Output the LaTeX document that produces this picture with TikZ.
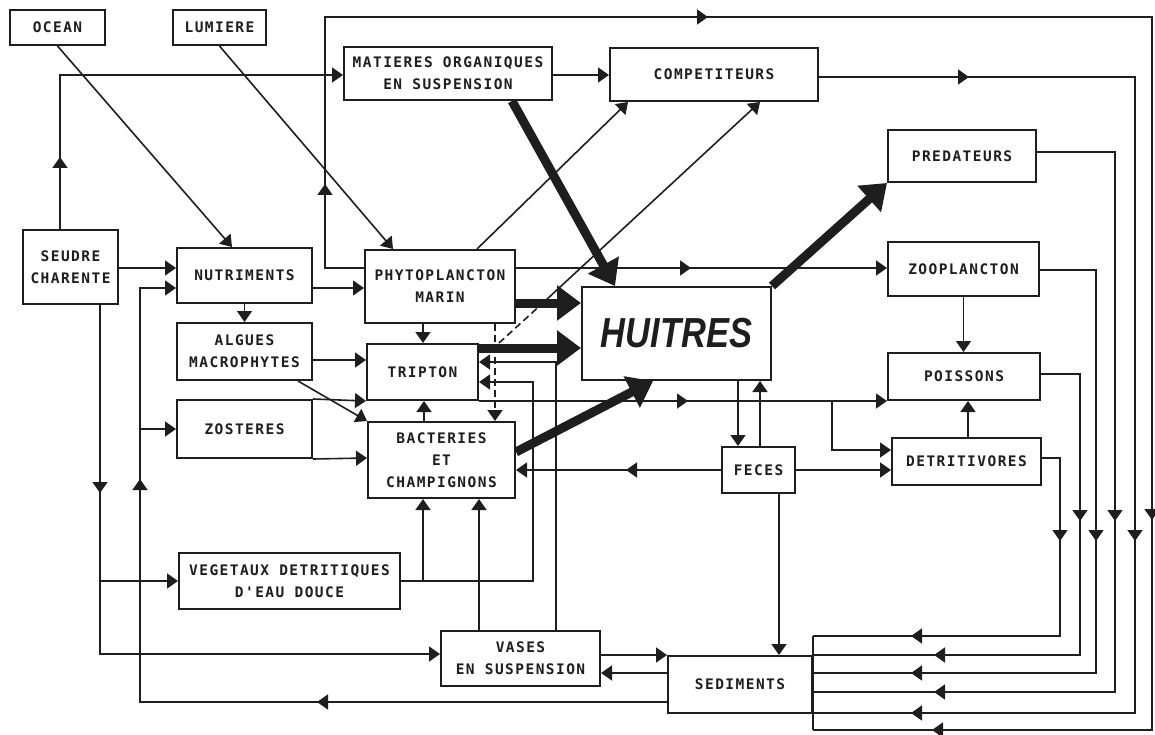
\documentclass[tikz,border=0pt]{standalone}
\usepackage{fontspec}
\usepackage{graphicx}
\usetikzlibrary{arrows.meta,decorations.markings}
\newfontfamily\boxfont[LetterSpace=10]{DejaVu Sans Mono}
\newfontfamily\bigfont{Liberation Sans}
\definecolor{ink}{HTML}{1E1E1E}

\tikzset{
  box/.style={draw=ink, line width=2pt, fill=white, text=ink, inner sep=1pt, align=center,
    font=\boxfont\bfseries\fontsize{14.5}{22}\selectfont},
  plain/.style={draw=ink, line width=1.6pt},
  flow/.style={plain, -{Triangle[length=11pt,width=15pt]}},
  thick flow/.style={draw=ink, line width=9pt, -{Triangle[length=24pt,width=34pt]}},
  midarrow/.style={postaction={decorate, decoration={markings,
    mark=at position #1 with {\arrow[ink]{Triangle[length=11pt,width=15pt]}}}}},
  long dash/.style={dash pattern=on 7pt off 4pt},
}

\begin{document}
\begin{tikzpicture}[x=1pt,y=-1pt]
\useasboundingbox (0,0) rectangle (1155,735);

% compartments
\node[box, minimum width=95pt, minimum height=35pt] (ocean) at (57.5,27.5) {OCEAN};
\node[box, minimum width=93pt, minimum height=35pt] (lumiere) at (219.5,27.5) {LUMIERE};
\node[box, minimum width=208pt, minimum height=53pt] (matieres) at (448,73.5) {MATIERES ORGANIQUES\\EN SUSPENSION};
\node[box, minimum width=208pt, minimum height=53pt] (compet) at (714,74.5) {COMPETITEURS};
\node[box, minimum width=148pt, minimum height=52pt] (predat) at (962,156) {PREDATEURS};
\node[box, minimum width=95pt, minimum height=74pt] (seudre) at (70.5,267) {SEUDRE\\CHARENTE};
\node[box, minimum width=135pt, minimum height=55pt] (nutri) at (244.5,275.5) {NUTRIMENTS};
\node[box, minimum width=150pt, minimum height=73pt] (phyto) at (440,286.5) {PHYTOPLANCTON\\MARIN};
\node[box, minimum width=189pt, minimum height=93pt,
  font=\bigfont\bfseries\itshape\fontsize{42}{42}\selectfont] (huitres) at (676.5,333.5) {\scalebox{0.82}[1]{HUITRES}};
\node[box, minimum width=151pt, minimum height=54pt] (zoo) at (963.5,269) {ZOOPLANCTON};
\node[box, minimum width=135pt, minimum height=57pt] (algues) at (244.5,351.5) {ALGUES\\MACROPHYTES};
\node[box, minimum width=111pt, minimum height=56pt] (tripton) at (422.5,372) {TRIPTON};
\node[box, minimum width=152pt, minimum height=47pt] (poissons) at (964,376.5) {POISSONS};
\node[box, minimum width=135pt, minimum height=58pt] (zost) at (244.5,429) {ZOSTERES};
\node[box, minimum width=147pt, minimum height=76pt] (bact) at (441.5,460) {BACTERIES\\ET\\CHAMPIGNONS};
\node[box, minimum width=73pt, minimum height=46pt] (feces) at (758.5,470) {FECES};
\node[box, minimum width=149pt, minimum height=47pt] (detri) at (966.5,461.5) {DETRITIVORES};
\node[box, minimum width=221pt, minimum height=56pt] (veget) at (289.5,581) {VEGETAUX DETRITIQUES\\D'EAU DOUCE};
\node[box, minimum width=159pt, minimum height=55pt] (vases) at (520.5,658.5) {VASES\\EN SUSPENSION};
\node[box, minimum width=144pt, minimum height=57pt] (sedim) at (740,684.5) {SEDIMENTS};

% inputs on the left
\draw[flow, midarrow=72pt] (seudre.north -| 60,0) |- (matieres.west |- 0,75);
\draw[flow] (ocean.south) -- (nutri.north -| 232,0);
\draw[flow] (lumiere.south) -- (phyto.north -| 393,0);
\draw[flow] (seudre.east |- 0,268) -- (nutri.west |- 0,268);
\draw[flow, midarrow=188pt] (seudre.south -| 100,0) |- (vases.west |- 0,654);
\draw[flow] (veget.west -| 100,0) -- (veget.west);
\draw[flow, midarrow=350pt, midarrow=750pt] (sedim.west |- 0,702) -| (140,288) -- (nutri.west |- 0,288);
\draw[flow] (zost.west -| 140,0) -- (zost.west);

% primary producers
\draw[flow] (nutri.east |- 0,288) -- (phyto.west |- 0,288);
\draw[flow] (nutri.south) -- (algues.north);
\draw[flow] (algues.east |- 0,360) -- (tripton.west |- 0,360);
\draw[flow] (zost.north east) -- (tripton.south west);
\draw[flow] (algues.south east -| 298,0) -- (bact.north west);
\draw[flow] (zost.south east) -- (bact.west |- 0,458);
\draw[flow] (phyto.south -| 423,0) -- (tripton.north -| 423,0);
\draw[flow] (bact.north -| 424,0) -- (tripton.south -| 424,0);
\draw[flow, long dash] (phyto.south -| 495,0) -- (bact.north -| 495,0);

% detritus and mud
\draw[flow] (veget.east) -| (533,382) -- (tripton.east |- 0,382);
\draw[flow] (veget.east -| 423,0) -- (bact.south -| 423,0);
\draw[flow] (vases.north -| 556,0) |- (tripton.east |- 0,362);
\draw[flow] (vases.north -| 479,0) -- (bact.south -| 479,0);
\draw[flow] (vases.east |- 0,655) -- (sedim.west |- 0,655);
\draw[flow] (sedim.west |- 0,673) -- (vases.east |- 0,673);

% towards competitors
\draw[flow] (matieres.east |- 0,75) -- (compet.west |- 0,75);
\draw[flow] (phyto.north -| 477,0) -- (compet.south -| 628,0);
\coordinate (dash end) at (540,305.6);
\draw[plain, long dash] (tripton.north east -| 499,0) -- (dash end);
\draw[flow] (dash end) -- (compet.south -| 760,0);

% consumers
\draw[flow, midarrow=175pt] (phyto.east |- 0,268) -- (zoo.west |- 0,268);
\draw[flow, midarrow=209pt] (tripton.south east) -- (poissons.south west);
\draw[flow] (tripton.south east -| 832,0) |- (detri.west |- 0,450);
\draw[flow] (zoo.south) -- (poissons.north -| zoo.south);
\draw[flow] (detri.north -| 968,0) -- (poissons.south -| 968,0);
\draw[flow] (huitres.south -| 738,0) -- (feces.north -| 738,0);
\draw[flow] (feces.north -| 760,0) -- (huitres.south -| 760,0);
\draw[flow, midarrow=95pt] (feces.west) -- (bact.east |- feces.west);
\draw[flow] (feces.east) -- (detri.west |- feces.east);
\draw[flow] (feces.south -| 779,0) -- (sedim.north -| 779,0);

% returns to the sediments
\draw[plain, midarrow=123pt, midarrow=673pt, midarrow=1620pt, midarrow=2050pt]
  (phyto.west |- 0,268) -| (325,17) -| (1152,730) -- (sedim.east |- 0,730);
\draw[plain, midarrow=150pt, midarrow=780pt, midarrow=1176pt]
  (compet.east |- 0,77) -| (1135,713) -- (sedim.east |- 0,713);
\draw[plain, midarrow=447pt, midarrow=799pt]
  (predat.east |- 0,152) -| (1115,692) -- (sedim.east |- 0,692);
\draw[plain, midarrow=327pt, midarrow=644pt]
  (zoo.east |- 0,270) -| (1096,673) -- (sedim.east |- 0,673);
\draw[plain, midarrow=186pt, midarrow=466pt]
  (poissons.east |- 0,374) -| (1080,655) -- (sedim.east |- 0,655);
\draw[plain, midarrow=101pt, midarrow=345pt]
  (detri.east |- 0,458) -| (1060,636) -- (sedim.east |- 0,636);
\draw[plain] (sedim.east |- 0,636) -- (sedim.east |- 0,730);

% main flows into and out of the oysters
\draw[thick flow] (matieres.south -| 512,0) -- (huitres.north -| 615,0);
\draw[thick flow] (phyto.east |- 0,303) -- (huitres.west |- 0,303);
\draw[thick flow] (tripton.east |- 0,348) -- (huitres.west |- 0,348);
\draw[thick flow] (bact.east |- 0,452) -- (huitres.south -| 653,0);
\draw[thick flow] (huitres.north east) -- (predat.south west);
\end{tikzpicture}
\end{document}
